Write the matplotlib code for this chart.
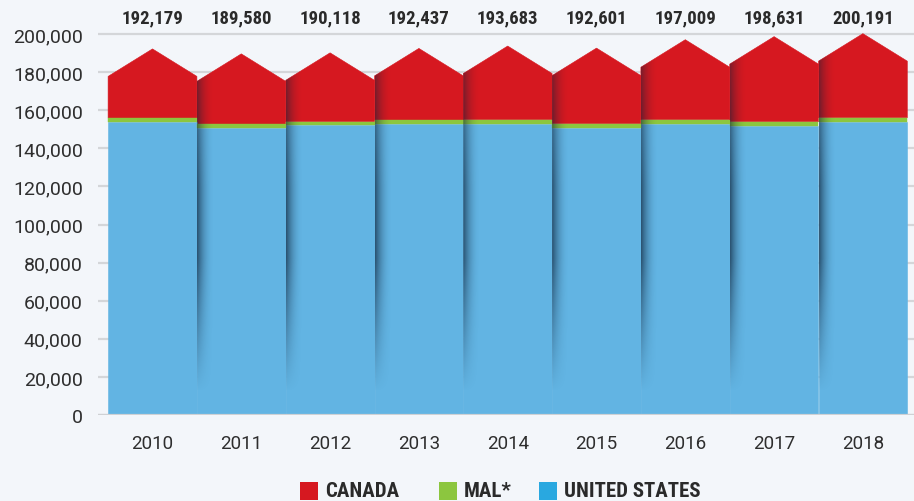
import numpy as np
import matplotlib
matplotlib.use('Agg')
import matplotlib.pyplot as plt
from matplotlib.patches import Polygon, Rectangle
from matplotlib import font_manager as fm
import matplotlib.transforms as mtransforms

# ---------------- data ----------------
years = ['2010', '2011', '2012', '2013', '2014', '2015', '2016', '2017', '2018']
totals = [192179, 189580, 190118, 192437, 193683, 192601, 197009, 198631, 200191]
us = [153960, 150810, 152070, 152750, 153010, 150810, 152900, 151860, 153960]
mal = [1940, 1940, 1890, 1940, 1990, 2090, 2100, 2100, 2100]
canada = [t - u - m for t, u, m in zip(totals, us, mal)]
y_ticks = [0, 20000, 40000, 60000, 80000, 100000, 120000, 140000, 160000, 180000, 200000]
legend_labels = ['CANADA', 'MAL*', 'UNITED STATES']

# ---------------- style ----------------
C_US = '#62b4e3'
C_MAL = '#8cc63f'
C_CAN = '#d61820'
L_US = '#29a8e0'
BG = '#f3f6fa'
GRID = '#d4d6d9'

cond_family, cond_stretch = None, 'normal'
for f in fm.fontManager.ttflist:
    if f.name in ('Liberation Sans Narrow', 'Roboto Condensed', 'Open Sans Condensed'):
        cond_family = f.name
        break
if cond_family is None:
    for f in fm.fontManager.ttflist:
        st = f.stretch
        if f.name in ('Noto Sans', 'Open Sans', 'DejaVu Sans', 'Roboto') and \
                (st in ('condensed', 'semi-condensed', 'extra-condensed') or
                 (isinstance(st, int) and st < 500)):
            cond_family, cond_stretch = f.name, st
            break
COND_OK = cond_family is not None
if not COND_OK:
    cond_family = 'Roboto'
REG = 'Roboto'
val_size = 13.5 if COND_OK else 12
leg_size = 15 if COND_OK else 13

W, H = 914, 502
fig = plt.figure(figsize=(W / 100, H / 100), dpi=100)
fig.patch.set_facecolor(BG)

ax_l, ax_r, ax_b, ax_t = 98, 914, 416, 0   # pixel positions
ax = fig.add_axes([ax_l / W, (H - ax_b) / H, (ax_r - ax_l) / W, (ax_b - ax_t) / H])
ax.set_facecolor('none')
px_per_unit = 381 / 200000.0
ymax = (ax_b - ax_t) / px_per_unit
bar_px = 88.8
x0_px = 152.5
xmin = (ax_l - x0_px) / bar_px
xmax = (ax_r - x0_px) / bar_px
ax.set_xlim(xmin, xmax)
ax.set_ylim(0, ymax)

for t in y_ticks:
    ax.axhline(t, color=GRID, lw=1.6, zorder=0)

ROOF = 27.5 / px_per_unit   # roof height (styling)
x = np.arange(len(years))

for i in x:
    l, r = i - 0.5, i + 0.5
    base = us[i] + mal[i]
    shoulder = totals[i] - ROOF
    can = Polygon([(l, base), (r, base), (r, shoulder), (i, totals[i]), (l, shoulder)],
                  closed=True, facecolor=C_CAN, edgecolor=C_CAN, lw=0.4, zorder=2, clip_on=False)
    ax.add_patch(can)

ax.bar(x, us, width=1.0, color=C_US, edgecolor=C_US, zorder=2, linewidth=0.4)
ax.bar(x, mal, bottom=us, width=1.0, color=C_MAL, edgecolor=C_MAL, zorder=2, linewidth=0.3)

# shadow on the left edge of each following bar
nx, ny = 60, 200
sw = 18 / bar_px
xs = np.linspace(0, 1, nx)
vs = np.linspace(ymax, 0, ny)
ax_prof = (1 - xs) ** 2.2
for i in x[1:]:
    gy = np.clip((vs - 12000) / 70000, 0, 1) * (1 - 0.35 * np.clip((vs - 120000) / 60000, 0, 1))
    alpha = 0.68 * gy[:, None] * ax_prof[None, :]
    img = np.zeros((ny, nx, 4))
    img[..., 0] = 0.05
    img[..., 1] = 0.13
    img[..., 2] = 0.22
    img[..., 3] = alpha
    l = i - 0.5
    im = ax.imshow(img, extent=[l, l + sw, 0, ymax], aspect='auto', zorder=3,
                   interpolation='bilinear')
    poly = Polygon([(l, 0), (i + 0.5, 0), (i + 0.5, totals[i] - ROOF), (i, totals[i]),
                    (l, totals[i] - ROOF)], closed=True, transform=ax.transData)
    im.set_clip_path(poly)

ax.set_xlim(xmin, xmax)
ax.set_ylim(0, ymax)

ax.axhline(0, color='#cfd1d4', lw=1.6, zorder=4)

for s in ax.spines.values():
    s.set_visible(False)
ax.set_yticks(y_ticks)
ax.set_yticklabels([f'{v:,}' for v in y_ticks], fontsize=14, color='#2e2e2e', family=REG)
ax.set_xticks(x)
ax.set_xticklabels(years, fontsize=13.5, color='#2e2e2e', family=REG)
ax.tick_params(axis='y', length=0, pad=11)
ax.tick_params(axis='x', length=0, pad=14)

trans = mtransforms.blended_transform_factory(ax.transData, ax.transAxes)
lab_y = (ax_b - 18) / (ax_b - ax_t)
for i in x:
    ax.text(i, lab_y, f'{totals[i]:,}', transform=trans, ha='center', va='center',
            fontsize=val_size, fontweight='bold', color='#2a2a2a', family=cond_family,
            fontstretch=cond_stretch)

leg_items = [(300, legend_labels[0], C_CAN), (439, legend_labels[1], C_MAL), (539, legend_labels[2], L_US)]
sq = 17.7
for px, lab, col in leg_items:
    fig.patches.append(Rectangle((px / W, (H - 501) / H), sq / W, (501 - 482.7) / H,
                                 transform=fig.transFigure, facecolor=col, edgecolor='none'))
    fig.text((px + sq + 7) / W, (H - 492) / H, lab, ha='left', va='center', fontsize=leg_size,
             fontweight='bold', color='#2a2a2a', family=cond_family, fontstretch=cond_stretch)

fig.savefig('out.png', dpi=100, facecolor=BG)
